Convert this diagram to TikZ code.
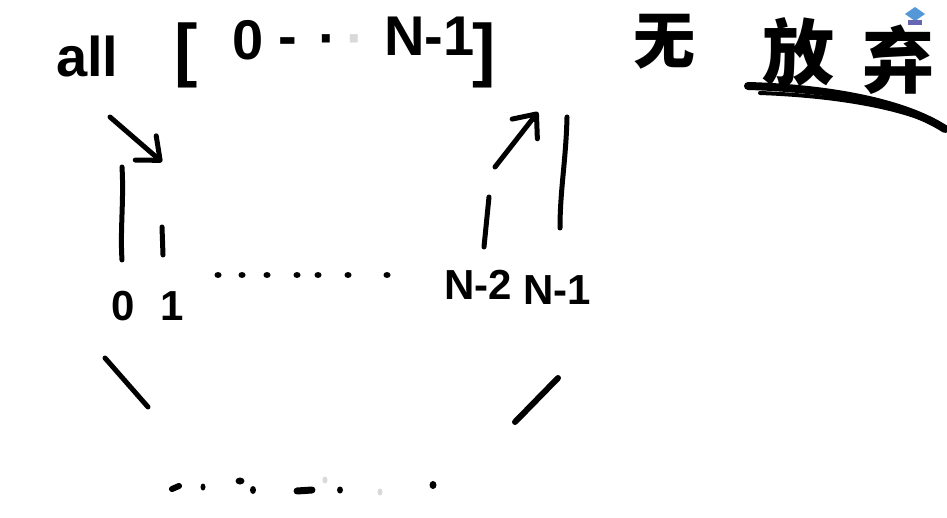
\documentclass[tikz,border=0pt]{standalone}
\usepackage{fontspec}
\setmainfont{Liberation Sans}
\newfontfamily\cjk{Noto Sans CJK SC}
\usetikzlibrary{arrows.meta}
\begin{document}
\begin{tikzpicture}[x=1pt,y=-1pt,
  ink/.style={line width=5pt,line cap=round,line join=round,black},
  barb/.style={-{Straight Barb[length=19pt,width=32pt,line width=5pt,round]}},
  txt/.style={inner sep=0pt,anchor=base west,black},
  big/.style={font=\fontsize{56}{56}\selectfont\bfseries},
  mid/.style={font=\fontsize{42}{42}\selectfont\bfseries},
  han/.style={font=\cjk\bfseries\fontsize{62}{62}\selectfont},
  dot/.style={fill=black,draw=none},
  faint/.style={fill=black!15,draw=none}]
\fill[white] (0,0) rectangle (947,518);
\useasboundingbox (0,0) rectangle (947,518);

% top line of text
\node[txt,big] (all) at (56,77) {all};
\node[txt,font=\fontsize{70}{70}\selectfont\bfseries] (lb) at (174,74) {[};
\node[txt,big] (zeroT) at (232,60) {0};
\node[txt,big] (dashT) at (278,56) {-};
\node[txt,big] (dotT) at (318,58) {·};
\node[txt,big,text=black!15] (dotT2) at (346,58) {·};
\node[txt,big] (nmT) at (384,56) {N-1};
\node[txt,font=\fontsize{70}{70}\selectfont\bfseries] (rb) at (472,74) {]};
\node[txt,han] (wu) at (633,64) {无};
\node[txt,han,font=\cjk\bfseries\fontsize{72}{72}\selectfont] (fang) at (762,80) {放};
\node[txt,han,font=\cjk\bfseries\fontsize{72}{72}\selectfont] (qi) at (862,88) {弃};
\draw[line width=8pt,line cap=round] (748,86) .. controls (820,88) and (900,100) .. (945,129);
\draw[line width=4pt,line cap=round] (760,93) .. controls (840,96) and (900,108) .. (935,124);

% watermark logo
\fill[cyan!60!blue!70] (905,14) -- (915,7) -- (925,14) -- (915,21) -- cycle;
\fill[blue!50!black!60] (908,20) rectangle (922,25);

% middle row labels
\node[txt,mid] (n0) at (111,320) {0};
\node[txt,mid] (n1) at (160,321) {1};
\node[txt,mid] (nm2) at (444,300) {N-2};
\node[txt,mid] (nm1) at (523,305) {N-1};

% coordinates
\coordinate (aS) at (110,117);
\coordinate (aT) at (162,162);
\coordinate (l0a) at (122,167);
\coordinate (l0b) at (122,260);
\coordinate (l1a) at (162,227);
\coordinate (l1b) at (163,255);
\coordinate (l2a) at (489,197);
\coordinate (l2b) at (484,247);
\coordinate (bS) at (495,167);
\coordinate (bT) at (538,112);
\coordinate (l3a) at (567,117);
\coordinate (l3b) at (560,228);
\coordinate (d1a) at (105,358);
\coordinate (d1b) at (148,407);
\coordinate (d2a) at (515,422);
\coordinate (d2b) at (558,378);

\draw[ink,barb] (aS) -- (aT);
\draw[ink,barb] (bS) -- (bT);
\draw[ink] (l0a) .. controls (124,200) and (120,230) .. (l0b);
\draw[ink] (l1a) -- (l1b);
\draw[ink] (l2a) -- (l2b);
\draw[ink] (l3a) .. controls (566,160) and (560,190) .. (l3b);
\draw[ink] (d1a) -- (d1b);
\draw[ink,line width=6pt] (d2a) -- (d2b);

% middle dots
\foreach \x in {218,242,267,297,318,348,387}
  \fill[dot] (\x,275) ellipse (3.5 and 3);

% bottom dots
\draw[ink,line width=6pt] (172,489) -- (179,486);
\fill[dot] (203,487) ellipse (2.5 and 3.5);
\fill[dot] (240,481) ellipse (4.5 and 3.5);
\fill[dot] (253,490) ellipse (3 and 4);
\draw[ink,line width=7pt] (297,491) -- (312,490);
\fill[faint] (325,480) ellipse (2.5 and 3.5);
\fill[dot] (340,490) ellipse (3 and 3.5);
\fill[faint] (380,492) ellipse (2.5 and 3.5);
\fill[dot] (433,485) ellipse (3.5 and 4);
\end{tikzpicture}
\end{document}
